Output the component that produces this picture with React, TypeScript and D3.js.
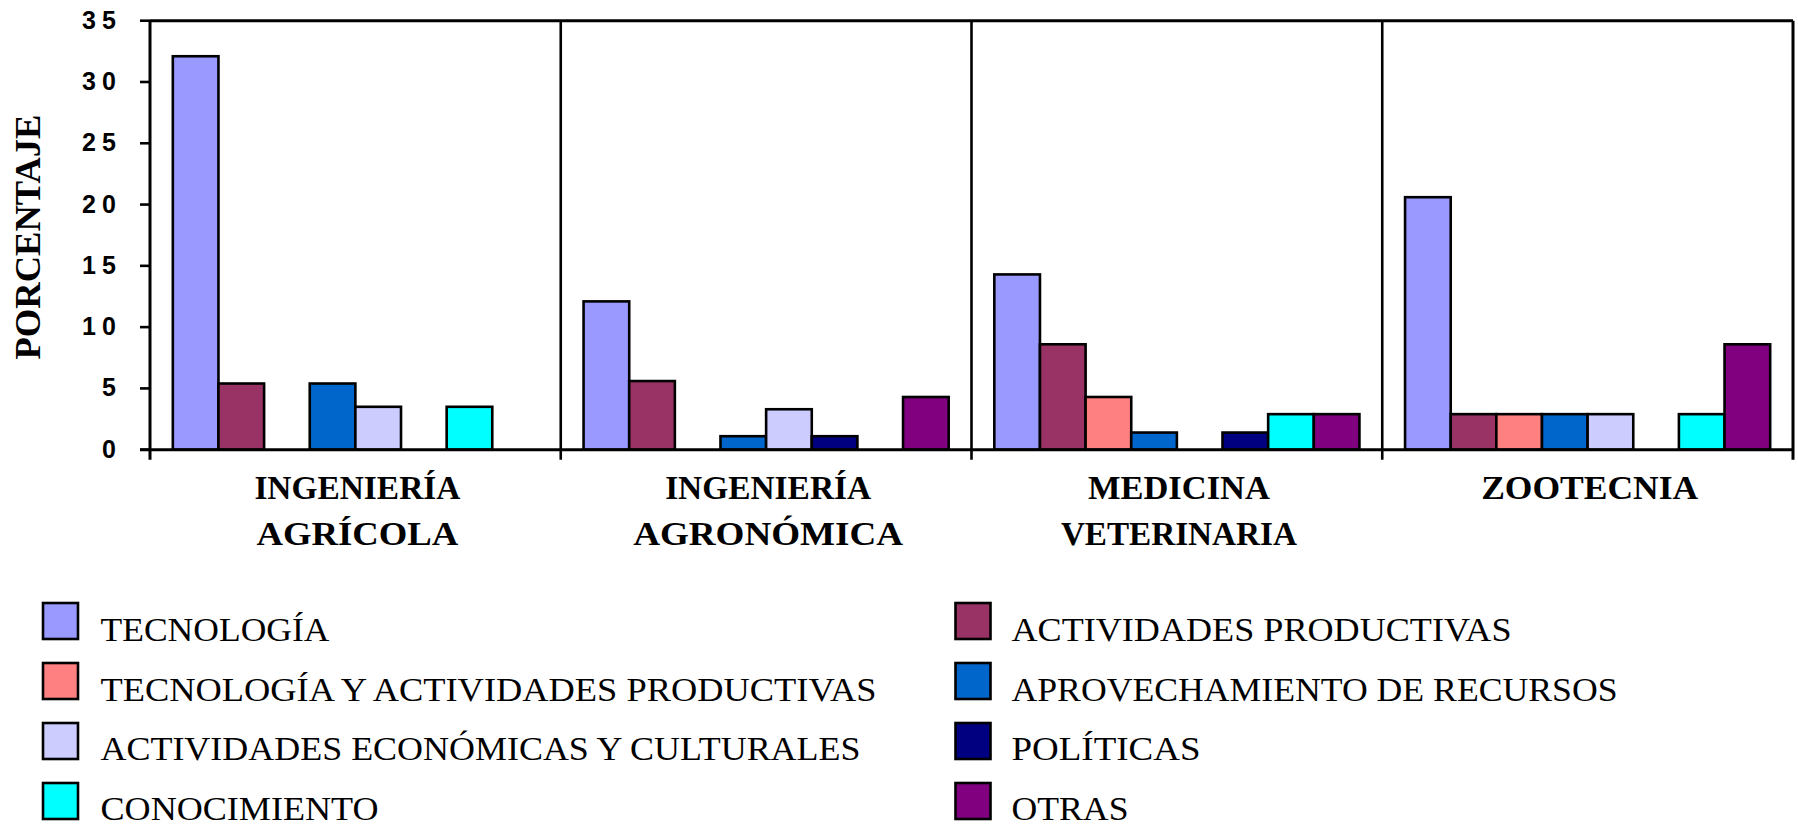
import React from "react";
import * as d3 from "d3";

const categories = ["INGENIERÍA AGRÍCOLA", "INGENIERÍA AGRONÓMICA", "MEDICINA VETERINARIA", "ZOOTECNIA"];
const categoryLines = [["INGENIERÍA", "AGRÍCOLA"], ["INGENIERÍA", "AGRONÓMICA"], ["MEDICINA", "VETERINARIA"], ["ZOOTECNIA"]];

const seriesNames = [
  "TECNOLOGÍA",
  "ACTIVIDADES PRODUCTIVAS",
  "TECNOLOGÍA Y ACTIVIDADES PRODUCTIVAS",
  "APROVECHAMIENTO DE RECURSOS",
  "ACTIVIDADES ECONÓMICAS Y CULTURALES",
  "POLÍTICAS",
  "CONOCIMIENTO",
  "OTRAS",
];

const tecnologia = [32.1, 12.1, 14.3, 20.6];
const actividadesProductivas = [5.4, 5.6, 8.6, 2.9];
const tecnologiaYActividades = [0, 0, 4.3, 2.9];
const aprovechamiento = [5.4, 1.1, 1.4, 2.9];
const actividadesEconomicas = [3.5, 3.3, 0, 2.9];
const politicas = [0, 1.1, 1.4, 0];
const conocimiento = [3.5, 0, 2.9, 2.9];
const otras = [0, 4.3, 2.9, 8.6];

const seriesValues = [
  tecnologia,
  actividadesProductivas,
  tecnologiaYActividades,
  aprovechamiento,
  actividadesEconomicas,
  politicas,
  conocimiento,
  otras,
];

const yTicks = [0, 5, 10, 15, 20, 25, 30, 35];

// styling / layout (not data)
const colors = ["#9999FF", "#993366", "#FF8080", "#0066CC", "#CCCCFF", "#000080", "#00FFFF", "#800080"];
const catLineWidths: Record<string, number> = {
  "INGENIERÍA": 206,
  "AGRÍCOLA": 202,
  "AGRONÓMICA": 270,
  "MEDICINA": 182,
  "VETERINARIA": 236,
  "ZOOTECNIA": 217,
};
const legendWidths: Record<string, number> = {
  "TECNOLOGÍA": 229,
  "ACTIVIDADES PRODUCTIVAS": 500,
  "TECNOLOGÍA Y ACTIVIDADES PRODUCTIVAS": 776,
  "APROVECHAMIENTO DE RECURSOS": 606,
  "ACTIVIDADES ECONÓMICAS Y CULTURALES": 760,
  "POLÍTICAS": 189,
  "CONOCIMIENTO": 278,
  "OTRAS": 117,
};

const W = 1798;
const H = 828;
const plotLeft = 150;
const plotRight = 1793;
const plotTop = 20.7;
const plotBottom = 449.7;

const serif = "'Liberation Serif', 'Times New Roman', serif";
const sans = "'Liberation Sans', Arial, sans-serif";

export default function App() {
  const x0 = d3.scaleBand<string>().domain(categories).range([plotLeft, plotRight]).padding(0);
  const x1 = d3
    .scaleBand<string>()
    .domain(seriesNames)
    .range([0, x0.bandwidth()])
    .paddingInner(0)
    .paddingOuter(0.5);
  const y = d3.scaleLinear().domain([0, 35]).range([plotBottom, plotTop]);

  const boundaries = [...categories.map((c) => x0(c) as number), plotRight];

  const legendItems = seriesNames.map((name, i) => {
    const col = i % 2;
    const row = Math.floor(i / 2);
    return { name, i, col, row };
  });

  return (
    <svg
      width={W}
      height={H}
      style={{ position: "absolute", left: 0, top: 0, background: "#fff" }}
    >
      <rect x={0} y={0} width={W} height={H} fill="#fff" />
      {/* bars */}
      {categories.map((cat, ci) =>
        seriesNames.map((s, si) => {
          const v = seriesValues[si][ci];
          if (!v) return null;
          const bx = (x0(cat) as number) + (x1(s) as number);
          return (
            <rect
              key={cat + s}
              x={bx}
              y={y(v)}
              width={x1.bandwidth()}
              height={y(0) - y(v)}
              fill={colors[si]}
              stroke="#000"
              strokeWidth={2.6}
            />
          );
        })
      )}
      {/* frame */}
      <line x1={plotLeft} x2={plotRight} y1={plotTop} y2={plotTop} stroke="#000" strokeWidth={3} />
      <line x1={plotLeft - 10} x2={plotRight} y1={plotBottom} y2={plotBottom} stroke="#000" strokeWidth={3} />
      {boundaries.map((bx, i) => (
        <line
          key={"b" + i}
          x1={bx}
          x2={bx}
          y1={plotTop}
          y2={plotBottom + 10}
          stroke="#000"
          strokeWidth={i === 0 || i === boundaries.length - 1 ? 3 : 2.6}
        />
      ))}
      {/* y ticks */}
      {yTicks.map((t) => (
        <g key={"t" + t}>
          <line x1={plotLeft - 10} x2={plotLeft} y1={y(t)} y2={y(t)} stroke="#000" strokeWidth={2.6} />
          <text
            x={116}
            y={y(t) + 8}
            textAnchor="end"
            fontFamily={sans}
            fontWeight="bold"
            fontSize={25}
            {...(String(t).length > 1 ? { textLength: 34, lengthAdjust: "spacing" } : {})}
          >
            {t}
          </text>
        </g>
      ))}
      {/* y title */}
      <text
        transform={`translate(40, 237) rotate(-90)`}
        textAnchor="middle"
        fontFamily={serif}
        fontWeight="bold"
        fontSize={35}
        textLength={245}
        lengthAdjust="spacingAndGlyphs"
      >
        PORCENTAJE
      </text>
      {/* category labels */}
      {categories.map((cat, ci) => {
        const cx = (x0(cat) as number) + x0.bandwidth() / 2 + 2;
        return categoryLines[ci].map((line, li) => (
          <text
            key={cat + li}
            x={cx - catLineWidths[line] / 2}
            y={499 + li * 46}
            fontFamily={serif}
            fontWeight="bold"
            fontSize={33}
            textLength={catLineWidths[line]}
            lengthAdjust="spacingAndGlyphs"
          >
            {line}
          </text>
        ));
      })}
      {/* legend */}
      {legendItems.map(({ name, i, col, row }) => {
        const sx = col === 0 ? 43 : 955.5;
        const tx = col === 0 ? 100.5 : 1011.5;
        const top = 603 + row * 60;
        return (
          <g key={"l" + i}>
            <rect x={sx} y={top} width={35} height={36} fill={colors[i]} stroke="#000" strokeWidth={2.6} />
            <text
              x={tx}
              y={641 + row * 59.7}
              fontFamily={serif}
              fontSize={34}
              textLength={legendWidths[name]}
              lengthAdjust="spacingAndGlyphs"
            >
              {name}
            </text>
          </g>
        );
      })}
    </svg>
  );
}
